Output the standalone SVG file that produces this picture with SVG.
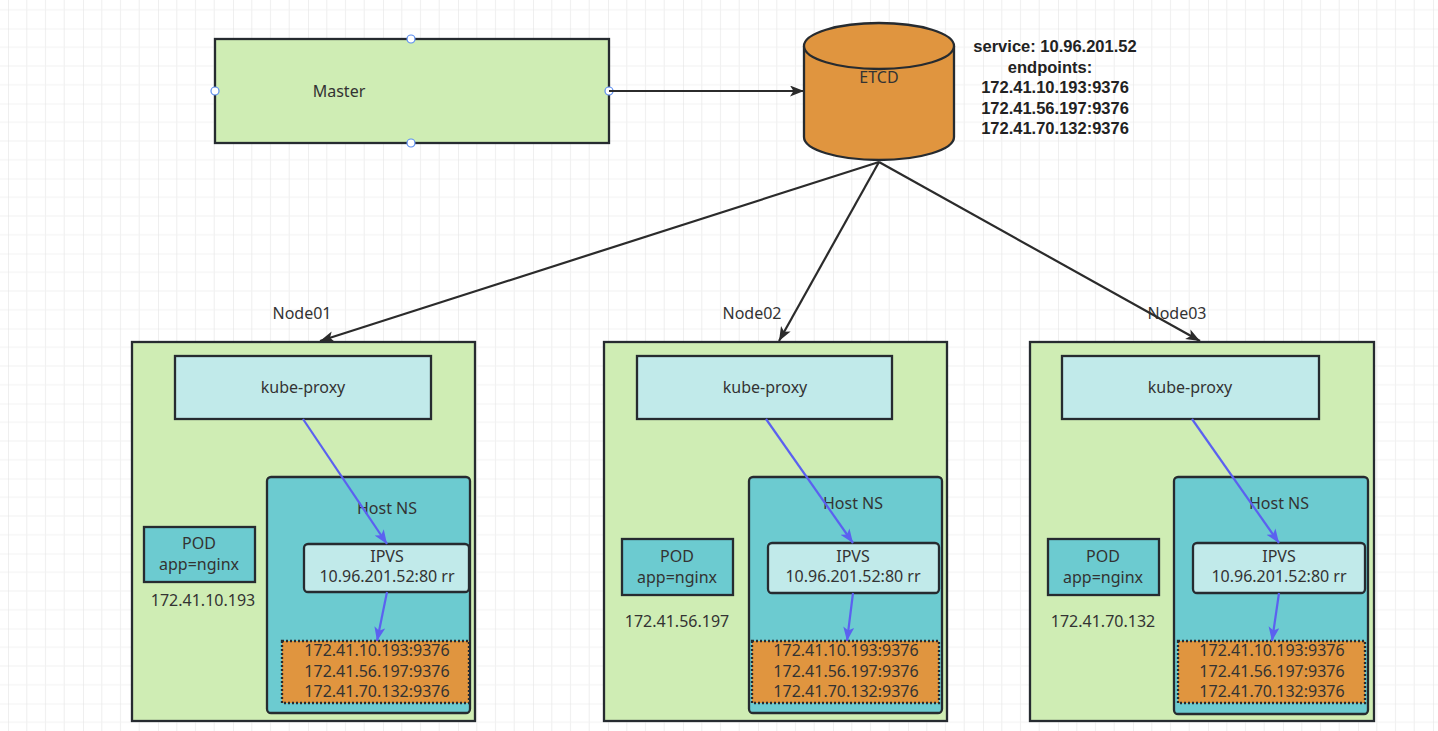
<svg xmlns="http://www.w3.org/2000/svg" width="1438" height="731" viewBox="0 0 1438 731">
<defs>
<pattern id="grid" x="8" y="28.5" width="75" height="75" patternUnits="userSpaceOnUse">
<path d="M18.75 0V75M37.5 0V75M56.25 0V75M0 18.75H75M0 37.5H75M0 56.25H75" stroke="#f1f1f1" stroke-width="1.2" fill="none"/>
<path d="M0 0V75M0 0H75" stroke="#e5e5e5" stroke-width="1.2" fill="none"/>
</pattern>
<marker id="ah" markerWidth="16" markerHeight="12" refX="14" refY="5.5" orient="auto" markerUnits="userSpaceOnUse">
<path d="M0,0 L14,5.5 L0,11 L3.5,5.5 Z" fill="#2b2b2b"/>
</marker>
<marker id="ahb" markerWidth="16" markerHeight="12" refX="14" refY="5.5" orient="auto" markerUnits="userSpaceOnUse">
<path d="M0,0 L14,5.5 L0,11 L3.5,5.5 Z" fill="#5b61f0"/>
</marker>
<style>
text{font-family:"Noto Sans","Open Sans","DejaVu Sans",sans-serif;font-size:16px;fill:#333;text-anchor:middle}
.b{font-family:"Liberation Sans",Arial,sans-serif;font-weight:bold;fill:#222;font-size:16.5px}
.green{fill:#cfedb4;stroke:#262b30;stroke-width:2.3}
.lc{fill:#c1eaea;stroke:#262b30;stroke-width:2.3}
.teal{fill:#6ccbd0;stroke:#262b30;stroke-width:2.3}
.ep{fill:#e0953f;stroke:#262b30;stroke-width:2.3;stroke-dasharray:2 2}
.conn{stroke:#2b2b2b;stroke-width:2.2;fill:none}
.blue{stroke:#5b61f0;stroke-width:2.2;fill:none}
.pt{fill:#fff;stroke:#5b8def;stroke-width:1.2}
</style>
</defs>
<rect width="1438" height="731" fill="#fff"/>
<rect width="1438" height="731" fill="url(#grid)"/>

<g id="master">
<rect class="green" x="215" y="39" width="394" height="104"/>
<text x="339" y="97">Master</text>
<circle class="pt" cx="411" cy="39" r="4"/>
<circle class="pt" cx="215" cy="91" r="4"/>
<circle class="pt" cx="609" cy="91" r="4"/>
<circle class="pt" cx="411" cy="143" r="4"/>
</g>

<g id="etcd">
<path d="M804 46 V137 A75 23 0 0 0 954 137 V46" fill="#e0953f" stroke="#262b30" stroke-width="2.3"/>
<ellipse cx="879" cy="46" rx="75" ry="23" fill="#e0953f" stroke="#262b30" stroke-width="2.3"/>
<text x="879" y="83">ETCD</text>
</g>

<g id="service-label">
<text class="b" x="1055" y="52">service: 10.96.201.52</text>
<text class="b" x="1050" y="72.5">endpoints:</text>
<text class="b" x="1055" y="93">172.41.10.193:9376</text>
<text class="b" x="1055" y="113.5">172.41.56.197:9376</text>
<text class="b" x="1055" y="134">172.41.70.132:9376</text>
</g>

<g id="node01">
<text x="302" y="319">Node01</text>
<rect class="green" x="132" y="342" width="343" height="379"/>
<rect class="lc" x="175" y="356" width="256" height="63"/>
<text x="303" y="393">kube-proxy</text>
<rect class="teal" x="267" y="477" width="203" height="236" rx="4"/>
<text x="387" y="514">Host NS</text>
<rect class="lc" x="304" y="544" width="165" height="48" rx="4"/>
<text x="387" y="562">IPVS</text>
<text x="387" y="582">10.96.201.52:80 rr</text>
<rect class="ep" x="282" y="641" width="187" height="62"/>
<text x="377" y="656">172.41.10.193:9376</text>
<text x="377" y="677">172.41.56.197:9376</text>
<text x="377" y="697">172.41.70.132:9376</text>
<rect class="teal" x="144" y="527" width="111" height="55"/>
<text x="199" y="549">POD</text>
<text x="199" y="570">app=nginx</text>
<text x="203" y="606">172.41.10.193</text>
</g>

<g id="node02">
<text x="752" y="319">Node02</text>
<rect class="green" x="604" y="342" width="343" height="379"/>
<rect class="lc" x="637" y="356" width="255" height="63"/>
<text x="765" y="393">kube-proxy</text>
<rect class="teal" x="749" y="477" width="193" height="236" rx="4"/>
<text x="853" y="509">Host NS</text>
<rect class="lc" x="768" y="543" width="171" height="50" rx="4"/>
<text x="853" y="562">IPVS</text>
<text x="853" y="582">10.96.201.52:80 rr</text>
<rect class="ep" x="752" y="641" width="187" height="62"/>
<text x="846" y="656">172.41.10.193:9376</text>
<text x="846" y="677">172.41.56.197:9376</text>
<text x="846" y="697">172.41.70.132:9376</text>
<rect class="teal" x="622" y="539" width="111" height="56"/>
<text x="677" y="562">POD</text>
<text x="677" y="583">app=nginx</text>
<text x="677" y="627">172.41.56.197</text>
</g>

<g id="node03">
<text x="1177" y="319">Node03</text>
<rect class="green" x="1030" y="342" width="344" height="379"/>
<rect class="lc" x="1062" y="356" width="257" height="63"/>
<text x="1190" y="393">kube-proxy</text>
<rect class="teal" x="1174" y="477" width="194" height="237" rx="4"/>
<text x="1279" y="509">Host NS</text>
<rect class="lc" x="1193" y="543" width="172" height="50" rx="4"/>
<text x="1279" y="562">IPVS</text>
<text x="1279" y="582">10.96.201.52:80 rr</text>
<rect class="ep" x="1178" y="641" width="187" height="62"/>
<text x="1272" y="656">172.41.10.193:9376</text>
<text x="1272" y="677">172.41.56.197:9376</text>
<text x="1272" y="697">172.41.70.132:9376</text>
<rect class="teal" x="1048" y="539" width="111" height="56"/>
<text x="1103" y="562">POD</text>
<text x="1103" y="583">app=nginx</text>
<text x="1103" y="627">172.41.70.132</text>
</g>

<g id="connectors">
<line class="conn" x1="609" y1="91" x2="804" y2="91" marker-end="url(#ah)"/>
<line class="conn" x1="879" y1="162" x2="320" y2="341" marker-end="url(#ah)"/>
<line class="conn" x1="879" y1="162" x2="779" y2="341" marker-end="url(#ah)"/>
<line class="conn" x1="879" y1="162" x2="1200" y2="341" marker-end="url(#ah)"/>
<line class="blue" x1="303" y1="419" x2="387" y2="544" marker-end="url(#ahb)"/>
<line class="blue" x1="387" y1="592" x2="377" y2="641" marker-end="url(#ahb)"/>
<line class="blue" x1="766" y1="419" x2="853" y2="543" marker-end="url(#ahb)"/>
<line class="blue" x1="853" y1="593" x2="847" y2="641" marker-end="url(#ahb)"/>
<line class="blue" x1="1192" y1="419" x2="1279" y2="543" marker-end="url(#ahb)"/>
<line class="blue" x1="1279" y1="593" x2="1272" y2="641" marker-end="url(#ahb)"/>
</g>
</svg>
